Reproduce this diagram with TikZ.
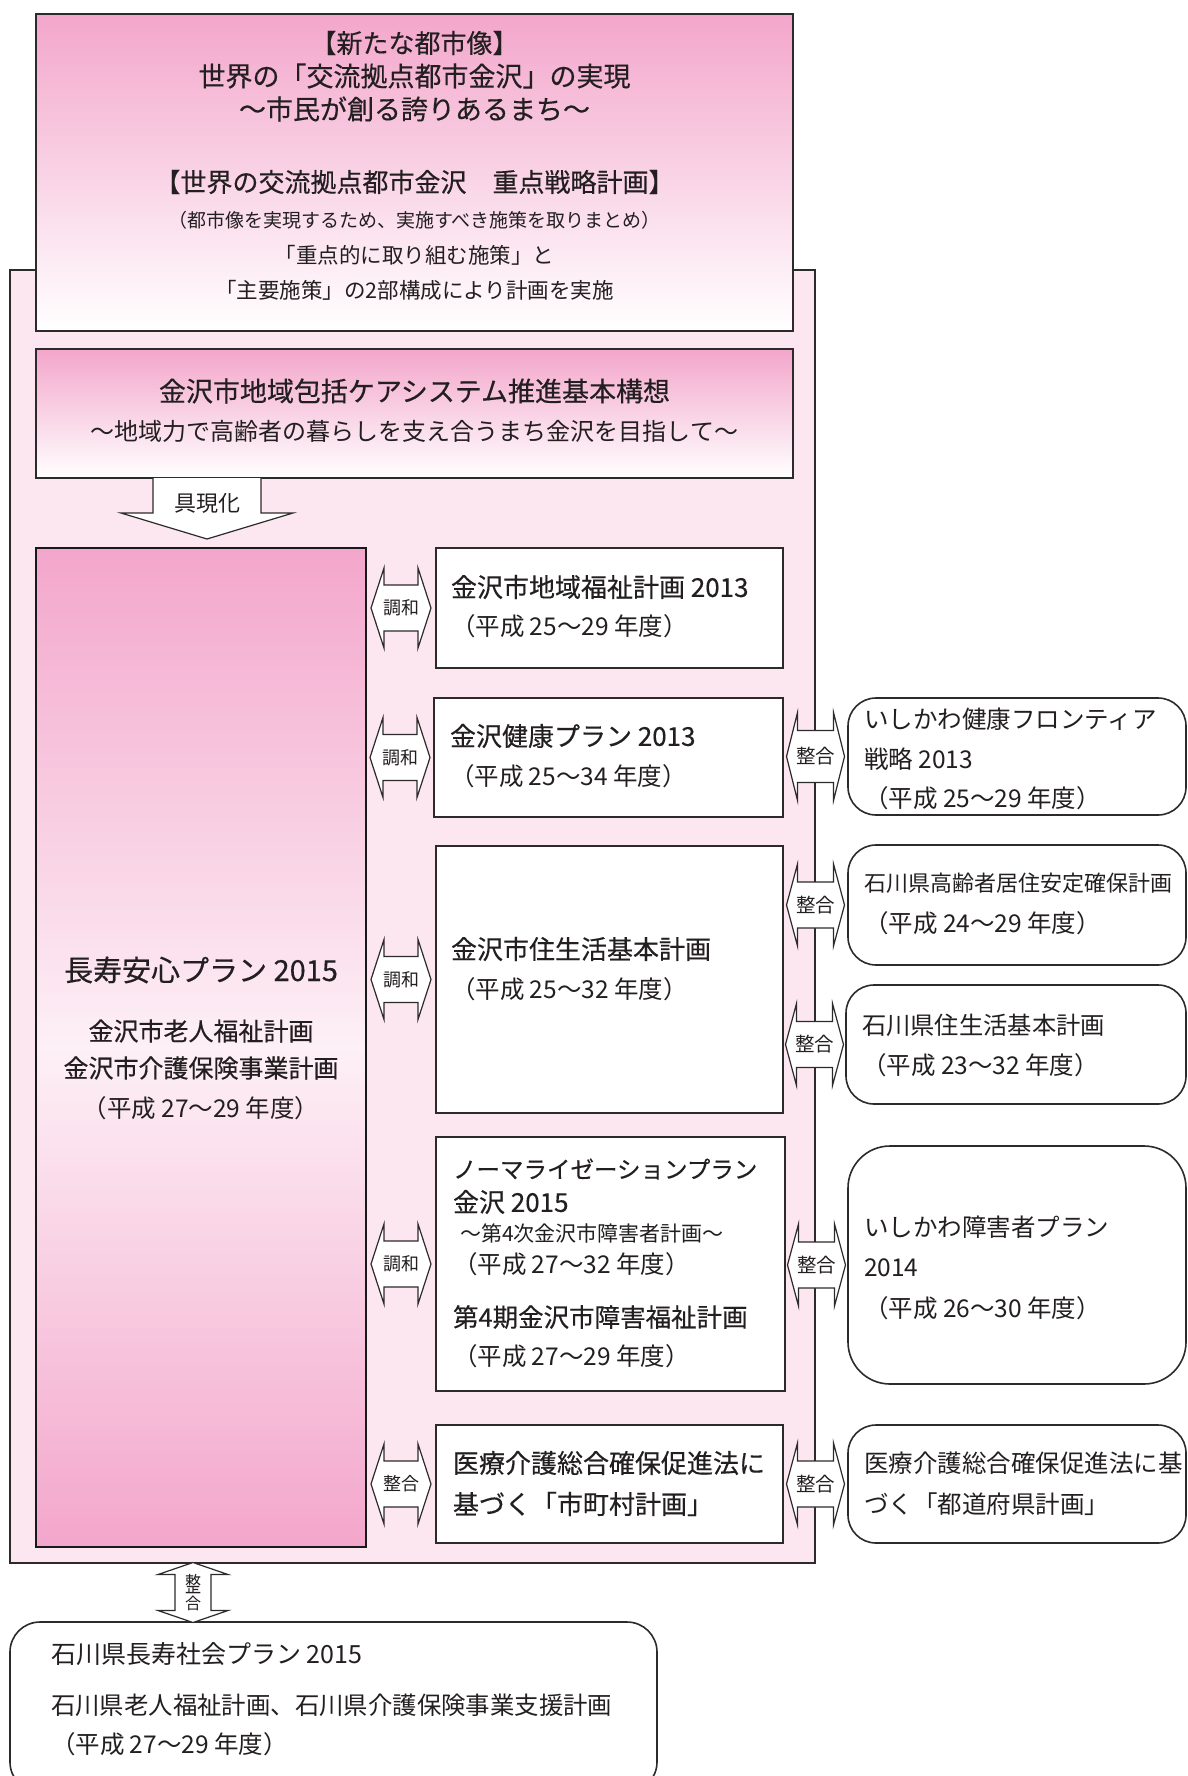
\documentclass[tikz,border=0pt]{standalone}
\usepackage{fontspec}
\setmainfont{Noto Sans CJK JP}
\newfontfamily\medf{Noto Sans CJK JP}[FakeBold=0.35]
\usetikzlibrary{calc}
\definecolor{pinkA}{RGB}{243,166,203}
\definecolor{pinkBg}{RGB}{252,230,240}
\definecolor{pinkMid}{RGB}{253,240,246}
\definecolor{lineC}{RGB}{45,42,43}
\definecolor{txt}{RGB}{35,31,32}
\newcommand\fs[1]{\fontsize{#1}{#1}\selectfont}
\newcommand\mfs[1]{\medf\fontsize{#1}{#1}\selectfont}
% name, from, to, half length, head length, head half width, shaft half width, font size, label
\newcommand\dblarrow[9]{%
  \path let \p1=(#2.east), \p2=(#3.west) in (\x1/2+\x2/2,\y2) coordinate (#1);
  \draw[arrowbox] ([shift={(-#4,0)}]#1) -- ([shift={(-#4+#5,-#6)}]#1) -- ([shift={(-#4+#5,-#7)}]#1)
    -- ([shift={(#4-#5,-#7)}]#1) -- ([shift={(#4-#5,-#6)}]#1) -- ([shift={(#4,0)}]#1)
    -- ([shift={(#4-#5,#6)}]#1) -- ([shift={(#4-#5,#7)}]#1) -- ([shift={(-#4+#5,#7)}]#1)
    -- ([shift={(-#4+#5,#6)}]#1) -- cycle;
  \node[font=\fs{#8}, fill=white] (#1t) at (#1) {#9};
}
\tikzset{
  every node/.style={text=txt, inner sep=0pt, outer sep=0pt},
  boxline/.style={draw=lineC, line width=1.6pt},
  framebox/.style={boxline, fill=pinkBg},
  gradbox/.style={boxline, top color=pinkA, bottom color=white},
  bigbox/.style={draw=black!90, line width=2.6pt, top color=pinkA, bottom color=pinkA, middle color=pinkMid},
  plainbox/.style={boxline, fill=white},
  roundbox/.style={boxline, fill=white, rounded corners=28pt},
  arrowbox/.style={draw=lineC, line width=1.2pt, fill=white, line join=miter},
  lt/.style={anchor=west},
  ct/.style={anchor=center},
}
\begin{document}
\begin{tikzpicture}[x=1pt,y=-1pt]
\useasboundingbox (0,0) rectangle (1187,1776);
\fill[white] (0,0) rectangle (1187,1776);

% boxes
\node[framebox, minimum width=805pt, minimum height=1293pt, anchor=north west] (fr) at (10,270) {};
\node[gradbox, minimum width=757pt, minimum height=317pt, anchor=north west] (top) at (36,14) {};
\node[gradbox, minimum width=757pt, minimum height=129pt, anchor=north west] (vis) at (36,349) {};
\node[bigbox, minimum width=330pt, minimum height=999pt, anchor=north west] (big) at (36,548) {};
\node[plainbox, minimum width=347pt, minimum height=120pt, anchor=north west] (b1) at (436,548) {};
\node[plainbox, minimum width=349pt, minimum height=119pt, anchor=north west] (b2) at (434,698) {};
\node[plainbox, minimum width=347pt, minimum height=267pt, anchor=north west] (b3) at (436,846) {};
\node[plainbox, minimum width=349pt, minimum height=254pt, anchor=north west] (b4) at (436,1137) {};
\node[plainbox, minimum width=347pt, minimum height=118pt, anchor=north west] (b5) at (436,1425) {};
\node[roundbox, minimum width=338pt, minimum height=117pt, anchor=north west] (r1) at (848,698) {};
\node[roundbox, minimum width=338pt, minimum height=120pt, anchor=north west] (r2) at (848,845) {};
\node[roundbox, minimum width=340pt, minimum height=119pt, anchor=north west] (r3) at (846,985) {};
\node[roundbox, rounded corners=42pt, minimum width=338pt, minimum height=238pt, anchor=north west] (r4) at (848,1146) {};
\node[roundbox, minimum width=338pt, minimum height=118pt, anchor=north west] (r5) at (848,1425) {};
\node[roundbox, rounded corners=30pt, minimum width=647pt, minimum height=170pt, anchor=north west] (bot) at (10,1622) {};

% top box text
\node[ct, font=\mfs{26}] (t1) at (414.5,43) {【新たな都市像】};
\node[ct, font=\mfs{27}] (t2) at (414.5,76) {世界の「交流拠点都市金沢」の実現};
\node[ct, font=\mfs{27}] (t3) at (414.5,109) {～市民が創る誇りあるまち～};
\node[ct, font=\mfs{26}] (t4) at (414.5,182) {【世界の交流拠点都市金沢　重点戦略計画】};
\node[ct, font=\fs{19}] (t5) at (414.5,220) {（都市像を実現するため、実施すべき施策を取りまとめ）};
\node[ct, font=\fs{21.5}] (t6) at (414.5,255) {「重点的に取り組む施策」と};
\node[ct, font=\fs{21.5}] (t7) at (414.5,290) {「主要施策」の2部構成により計画を実施};

% vision box text
\node[ct, font=\mfs{27}] (v1) at (414.5,391) {金沢市地域包括ケアシステム推進基本構想};
\node[ct, font=\fs{24}] (v2) at (414.5,431) {～地域力で高齢者の暮らしを支え合うまち金沢を目指して～};

% gugenka arrow
\draw[arrowbox] ([shift={(117,0)}]vis.south west) -- ([shift={(117,35)}]vis.south west)
  -- ([shift={(85,35)}]vis.south west) -- ([shift={(171,61)}]vis.south west)
  -- ([shift={(257,35)}]vis.south west) -- ([shift={(225,35)}]vis.south west)
  -- ([shift={(225,0)}]vis.south west);
\node[ct, font=\fs{22}] (gk) at (207,503) {具現化};

% big box text
\node[ct, font=\mfs{29}] (m1) at (201,970) {長寿安心プラン 2015};
\node[ct, font=\mfs{25}] (m2) at (201,1031) {金沢市老人福祉計画};
\node[ct, font=\mfs{25}] (m3) at (201,1068) {金沢市介護保険事業計画};
\node[ct, font=\fs{24.5}] (m4) at (201,1108) {（平成 27～29 年度）};

% middle boxes text
\node[lt, font=\mfs{26}] (b1a) at (451,587) {金沢市地域福祉計画 2013};
\node[lt, font=\fs{24.5}] (b1b) at (451,626) {（平成 25～29 年度）};
\node[lt, font=\mfs{26}] (b2a) at (450,736) {金沢健康プラン 2013};
\node[lt, font=\fs{24.5}] (b2b) at (450,776) {（平成 25～34 年度）};
\node[lt, font=\mfs{26}] (b3a) at (451,949) {金沢市住生活基本計画};
\node[lt, font=\fs{24.5}] (b3b) at (451,989) {（平成 25～32 年度）};
\node[lt, font=\mfs{23.5}] (b4a) at (453,1169) {ノーマライゼーションプラン};
\node[lt, font=\mfs{26}] (b4b) at (453,1202) {金沢 2015};
\node[lt, font=\fs{21}] (b4c) at (460,1233) {～第4次金沢市障害者計画～};
\node[lt, font=\fs{24.5}] (b4d) at (453,1264) {（平成 27～32 年度）};
\node[lt, font=\mfs{25.5}] (b4e) at (453,1317) {第4期金沢市障害福祉計画};
\node[lt, font=\fs{24.5}] (b4f) at (453,1356) {（平成 27～29 年度）};
\node[lt, font=\mfs{26}] (b5a) at (453,1463) {医療介護総合確保促進法に};
\node[lt, font=\mfs{26}] (b5b) at (453,1504) {基づく「市町村計画」};

% right boxes text
\node[lt, font=\fs{24.5}] (r1a) at (864,719) {いしかわ健康フロンティア};
\node[lt, font=\fs{24.5}] (r1b) at (864,759) {戦略 2013};
\node[lt, font=\fs{24.5}] (r1c) at (864,798) {（平成 25～29 年度）};
\node[lt, font=\fs{22}] (r2a) at (864,883) {石川県高齢者居住安定確保計画};
\node[lt, font=\fs{24.5}] (r2b) at (864,923) {（平成 24～29 年度）};
\node[lt, font=\fs{24.3}] (r3a) at (862,1025) {石川県住生活基本計画};
\node[lt, font=\fs{24.5}] (r3b) at (862,1065) {（平成 23～32 年度）};
\node[lt, font=\fs{24.5}] (r4a) at (864,1227) {いしかわ障害者プラン};
\node[lt, font=\fs{24.5}] (r4b) at (864,1268) {2014};
\node[lt, font=\fs{24.5}] (r4c) at (864,1308) {（平成 26～30 年度）};
\node[lt, font=\fs{24.5}] (r5a) at (864,1463) {医療介護総合確保促進法に基};
\node[lt, font=\fs{24.5}] (r5b) at (864,1504) {づく「都道府県計画」};

% bottom box text
\node[lt, font=\fs{25}] (z1) at (51,1654) {石川県長寿社会プラン 2015};
\node[lt, font=\fs{24.4}] (z2) at (51,1705) {石川県老人福祉計画、石川県介護保険事業支援計画};
\node[lt, font=\fs{24.5}] (z3) at (51,1744) {（平成 27～29 年度）};

% double arrows left
\dblarrow{a1}{big}{b1}{30}{13}{40}{23}{18}{調和}
\dblarrow{a2}{big}{b2}{30}{13}{40}{23}{18}{調和}
\dblarrow{a3}{big}{b3}{30}{13}{40}{23}{18}{調和}
\dblarrow{a4}{big}{b4}{30}{13}{40}{23}{18}{調和}
\dblarrow{a5}{big}{b5}{30}{13}{40}{23}{18}{整合}
% double arrows right
\dblarrow{c1}{b2}{r1}{29}{11}{44}{26}{19.5}{整合}
\dblarrow{c2}{b3}{r2}{29}{11}{41}{23}{19.5}{整合}
\dblarrow{c3}{b3}{r3}{29}{11}{41}{23}{19.5}{整合}
\dblarrow{c4}{b4}{r4}{29}{11}{41}{23}{19.5}{整合}
\dblarrow{c5}{b5}{r5}{29}{11}{41}{23}{19.5}{整合}

% vertical arrow to bottom box
\path let \p1=(fr.south), \p2=(bot.north), \p3=(193,0) in (\x3,\y1/2+\y2/2) coordinate (va);
\draw[arrowbox] ([shift={(0,-30)}]va) -- ([shift={(35,-18)}]va) -- ([shift={(18,-18)}]va)
  -- ([shift={(18,18)}]va) -- ([shift={(35,18)}]va) -- ([shift={(0,30)}]va)
  -- ([shift={(-35,18)}]va) -- ([shift={(-18,18)}]va) -- ([shift={(-18,-18)}]va)
  -- ([shift={(-35,-18)}]va) -- cycle;
\node[font=\fs{16}, align=center, fill=white] (vat) at (va) {\scalebox{1}[1.35]{整}\\[1pt]合};
\end{tikzpicture}
\end{document}
